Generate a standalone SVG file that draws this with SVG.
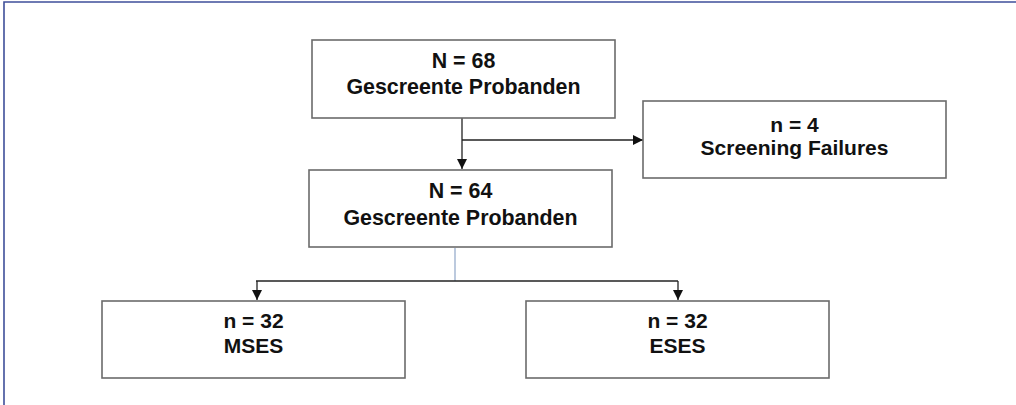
<svg xmlns="http://www.w3.org/2000/svg" width="1016" height="405" viewBox="0 0 1016 405">
<defs>
<style>
.box{fill:#fff;stroke:#6b6b6b;stroke-width:1.6}
.t{font-family:"Liberation Sans",Arial,sans-serif;font-weight:bold;font-size:21px;fill:#111;text-anchor:middle}
.big{font-size:21.4px}
.c{fill:none;stroke:#222;stroke-width:1.3}
</style>
<marker id="ah" markerWidth="11" markerHeight="11" refX="10" refY="5" orient="auto" markerUnits="userSpaceOnUse">
<path d="M0,0 L10,5 L0,10 z" fill="#111"/>
</marker>
</defs>
<rect x="0" y="0" width="1016" height="405" fill="#fff"/>
<path d="M4,405 V2 H1016" fill="none" stroke="#3f4f9a" stroke-width="1.6"/>
<g id="connectors">
<path class="c" d="M462,118 V169" marker-end="url(#ah)"/>
<path class="c" d="M462,140 H643" marker-end="url(#ah)"/>
<path d="M455,248 V281" fill="none" stroke="#8fa6c8" stroke-width="1.2"/>
<path class="c" d="M256,281 H678"/>
<path class="c" d="M257,281 V300" marker-end="url(#ah)"/>
<path class="c" d="M678,281 V300" marker-end="url(#ah)"/>
</g>
<g id="node-screened68">
<rect class="box" x="312" y="40" width="303" height="78"/>
<text class="t big" x="463.5" y="68">N = 68</text>
<text class="t big" x="463.5" y="94">Gescreente Probanden</text>
</g>
<g id="node-failures">
<rect class="box" x="643" y="101" width="303" height="77"/>
<text class="t" x="794.5" y="132">n = 4</text>
<text class="t" x="794.5" y="155">Screening Failures</text>
</g>
<g id="node-screened64">
<rect class="box" x="309" y="170" width="303" height="77"/>
<text class="t big" x="460.5" y="198">N = 64</text>
<text class="t big" x="460.5" y="225">Gescreente Probanden</text>
</g>
<g id="node-mses">
<rect class="box" x="102" y="301" width="303" height="77"/>
<text class="t" x="253.5" y="328">n = 32</text>
<text class="t" x="253.5" y="353">MSES</text>
</g>
<g id="node-eses">
<rect class="box" x="526" y="301" width="303" height="77"/>
<text class="t" x="677.5" y="328">n = 32</text>
<text class="t" x="677.5" y="353">ESES</text>
</g>
</svg>
